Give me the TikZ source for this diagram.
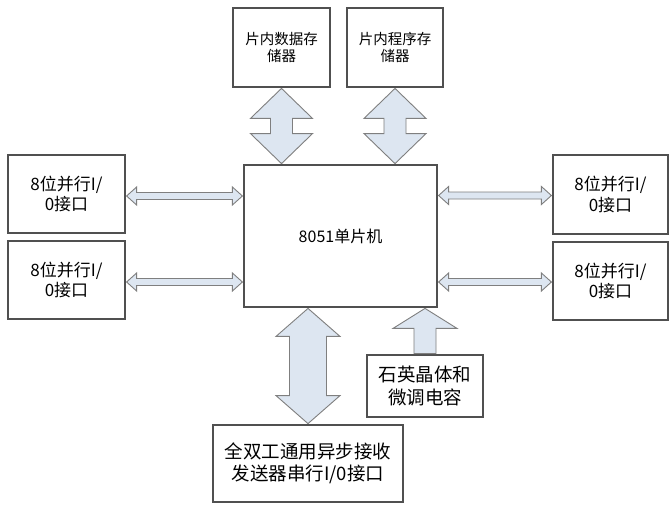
\documentclass[tikz,border=0pt]{standalone}
\usepackage{fontspec}
\newfontfamily\cjk{Noto Sans CJK SC}
\usetikzlibrary{calc}
\definecolor{arrfill}{HTML}{DDE6F1}
\definecolor{arrline}{HTML}{7F7F7F}
\definecolor{boxline}{HTML}{505050}
\newcommand\vdarrow[5]{% top, bottom, shaft half, head half, head length
  \draw[fatarrow] let \p1=(#1), \p2=(#2) in
   (\x1,\y1) -- (\x1+#4,\y1-#5) -- (\x1+#3,\y1-#5) -- (\x1+#3,\y2+#5) -- (\x1+#4,\y2+#5)
   -- (\x1,\y2) -- (\x1-#4,\y2+#5) -- (\x1-#3,\y2+#5) -- (\x1-#3,\y1-#5) -- (\x1-#4,\y1-#5) -- cycle;}
\newcommand\hdarrow[5]{% left, right, shaft half, head half, head length
  \draw[fatarrow] let \p1=(#1), \p2=(#2) in
   (\x1,\y1) -- (\x1+#5,\y1+#4) -- (\x1+#5,\y1+#3) -- (\x2-#5,\y1+#3) -- (\x2-#5,\y1+#4)
   -- (\x2,\y1) -- (\x2-#5,\y1-#4) -- (\x2-#5,\y1-#3) -- (\x1+#5,\y1-#3) -- (\x1+#5,\y1-#4) -- cycle;}
\newcommand\uparr[5]{% tip (top), base (bottom), shaft half, head half, head length
  \draw[fatarrow] let \p1=(#1), \p2=(#2) in
   (\x1,\y1) -- (\x1+#4,\y1-#5) -- (\x1+#3,\y1-#5) -- (\x1+#3,\y2) -- (\x1-#3,\y2)
   -- (\x1-#3,\y1-#5) -- (\x1-#4,\y1-#5) -- cycle;}
\begin{document}
\begin{tikzpicture}[x=1pt,y=-1pt,
  box/.style={draw=boxline, line width=1.2pt, fill=white, inner sep=0pt, align=center, font=\cjk},
  fatarrow/.style={draw=arrline, fill=arrfill, line width=0.9pt, line join=miter},
  smalltext/.style={font=\cjk\fontsize{14.5}{16.5}\selectfont},
  iotext/.style={font=\cjk\fontsize{17}{20.5}\selectfont},
  bigtext/.style={font=\cjk\fontsize{18.5}{22.5}\selectfont}]
\useasboundingbox[fill=white] (0,0) rectangle (669,504);
\node[box, smalltext, minimum width=97pt, minimum height=79pt] (dmem) at (281.5,47.5) {片内数据存\\储器};
\node[box, smalltext, minimum width=96pt, minimum height=79pt] (pmem) at (395,47.5) {片内程序存\\储器};
\node[box, font=\cjk\fontsize{16}{19}\selectfont, minimum width=193pt, minimum height=142pt] (cpu) at (340.5,236) {8051单片机};
\node[box, iotext, minimum width=117pt, minimum height=78pt] (io1) at (66.5,194) {8位并行I/\\0接口};
\node[box, iotext, minimum width=117pt, minimum height=78pt] (io2) at (66.5,280) {8位并行I/\\0接口};
\node[box, iotext, minimum width=115pt, minimum height=79pt] (io3) at (610.5,194.5) {8位并行I/\\0接口};
\node[box, iotext, minimum width=115pt, minimum height=78pt] (io4) at (610.5,281) {8位并行I/\\0接口};
\node[box, bigtext, minimum width=116pt, minimum height=62pt] (xtal) at (425,386) {石英晶体和\\微调电容};
\node[box, bigtext, minimum width=190pt, minimum height=77pt] (uart) at (308,463.5) {全双工通用异步接收\\发送器串行I/0接口};
% connector end points
\coordinate (d1) at ($(dmem.south)+(0,0.8)$);
\coordinate (d2) at ($(dmem.south |- cpu.north)+(0,-0.8)$);
\coordinate (p1) at ($(pmem.south)+(0,0.8)$);
\coordinate (p2) at ($(pmem.south |- cpu.north)+(0,-0.8)$);
\coordinate (u1) at ($(uart.north |- cpu.south)+(0,0.8)$);
\coordinate (u2) at ($(uart.north)+(0,-0.8)$);
\coordinate (x1) at ($(xtal.north |- cpu.south)+(0,0.8)$);
\coordinate (x2) at ($(xtal.north)+(0,-0.8)$);
\coordinate (l1a) at ($(io1.east)+(1,2)$);
\coordinate (l1c) at ($(cpu.west |- l1a)+(-1,0)$);
\coordinate (l2a) at ($(io2.east)+(1,2)$);
\coordinate (l2c) at ($(cpu.west |- l2a)+(-1,0)$);
\coordinate (r1a) at ($(cpu.east |- io3.east)+(1,1)$);
\coordinate (r1c) at ($(io3.west |- r1a)+(-1,0)$);
\coordinate (r2a) at ($(cpu.east |- io4.east)+(1,1)$);
\coordinate (r2c) at ($(io4.west |- r2a)+(-1,0)$);
\vdarrow{d1}{d2}{11pt}{31pt}{30pt}
\vdarrow{p1}{p2}{11pt}{31pt}{30pt}
\vdarrow{u1}{u2}{18.5pt}{32pt}{28pt}
\uparr{x1}{x2}{11pt}{32pt}{20pt}
\hdarrow{l1a}{l1c}{3.5pt}{9pt}{10pt}
\hdarrow{l2a}{l2c}{3.5pt}{9pt}{10pt}
\hdarrow{r1a}{r1c}{3.5pt}{9pt}{10pt}
\hdarrow{r2a}{r2c}{3.5pt}{9pt}{10pt}
\end{tikzpicture}
\end{document}
